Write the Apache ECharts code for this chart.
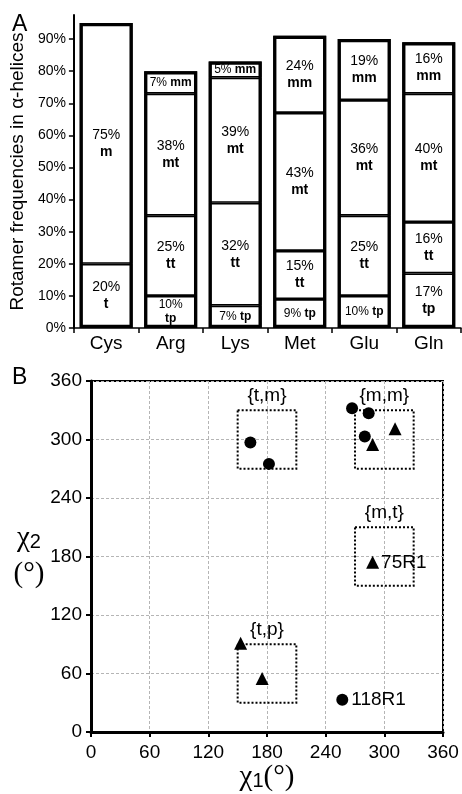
<!DOCTYPE html>
<html><head><meta charset="utf-8">
<script src="https://cdn.jsdelivr.net/npm/echarts@6/dist/echarts.min.js"></script>
<style>html,body{margin:0;padding:0;background:#fff}#c{width:462px;height:794px}</style>
</head><body><div id="c"></div>
<script>
// ---------- Panel A data ----------
const residues = ['Cys', 'Arg', 'Lys', 'Met', 'Glu', 'Gln'];
const seg1Values = [20, 10, 7, 9, 10, 17];
const seg1Names = ['t', 'tp', 'tp', 'tp', 'tp', 'tp'];
const seg2Values = [75, 25, 32, 15, 25, 16];
const seg2Names = ['m', 'tt', 'tt', 'tt', 'tt', 'tt'];
const seg3Values = [null, 38, 39, 43, 36, 40];
const seg3Names = [null, 'mt', 'mt', 'mt', 'mt', 'mt'];
const seg4Values = [null, 7, 5, 24, 19, 16];
const seg4Names = [null, 'mm', 'mm', 'mm', 'mm', 'mm'];
const yTickValuesA = [0, 10, 20, 30, 40, 50, 60, 70, 80, 90];

// ---------- Panel B data ----------
const circleX = [163, 182, 267, 284, 280, 257];
const circleY = [297, 275, 332, 327, 303, 33];
const circleLabels = ['', '', '', '', '', '118R1'];
const triangleX = [288, 311, 288, 153, 175];
const triangleY = [295, 311, 174, 91, 55];
const triangleLabels = ['', '', '75R1', '', ''];
const boxNames = ['{t,m}', '{m,m}', '{m,t}', '{t,p}'];
const boxX0 = [150, 270, 270, 150];
const boxX1 = [210, 330, 330, 210];
const boxY0 = [270, 270, 150, 30];
const boxY1 = [330, 330, 210, 90];

// label layout styles (inline small labels)
const seg1Style = ['n', 's2', 'i', 'i', 'i', 'n'];
const seg4Style = [null, 'i', 'i', 'n', 'n', 'n'];

const SANS = '"Liberation Sans", Arial, sans-serif';
const SERIF = '"Liberation Serif", "Times New Roman", serif';

const totals = residues.map((_, i) =>
  [seg1Values, seg2Values, seg3Values, seg4Values].reduce((s, a) => s + (a[i] || 0), 0));

function segLabel(values, names, styles) {
  return function (p) {
    const v = values[p.dataIndex], n = names[p.dataIndex];
    if (v == null) return '';
    const st = styles ? styles[p.dataIndex] : 'n';
    if (st === 'i') return '{ps|' + v + '%} {bs|' + n + '}';
    if (st === 's2') return '{ps|' + v + '%}\n{bs|' + n + '}';
    return '{p|' + v + '%}\n{b|' + n + '}';
  };
}
const richA = {
  p: { fontSize: 14, fontFamily: SANS, color: '#000', lineHeight: 17 },
  b: { fontSize: 14, fontFamily: SANS, fontWeight: 'bold', color: '#000', lineHeight: 17 },
  ps: { fontSize: 12, fontFamily: SANS, color: '#000', lineHeight: 14 },
  bs: { fontSize: 12, fontFamily: SANS, fontWeight: 'bold', color: '#000', lineHeight: 14 }
};
function barSeries(values, names, styles) {
  return {
    type: 'bar', stack: 'rot', xAxisIndex: 0, yAxisIndex: 0,
    data: values, barWidth: 53,
    itemStyle: { color: '#fff', borderColor: '#000', borderWidth: 1.6 },
    label: { show: true, position: 'inside', formatter: segLabel(values, names, styles), rich: richA },
    emphasis: { disabled: true }, animation: false
  };
}

const chart = echarts.init(document.getElementById('c'), null, { renderer: 'canvas' });
chart.setOption({
  animation: false,
  backgroundColor: '#fff',
  textStyle: { fontFamily: SANS },
  graphic: [
    { type: 'text', left: 12, top: 13, style: { text: 'A', fontSize: 23, fontFamily: SANS, fill: '#000' } },
    { type: 'text', left: 12, top: 366, style: { text: 'B', fontSize: 23, fontFamily: SANS, fill: '#000' } }
  ],
  grid: [
    { left: 71, right: 1, top: 15, bottom: 466 },
    { left: 91, right: 19, top: 381, bottom: 62, show: true, borderColor: '#000', borderWidth: 2, backgroundColor: 'rgba(0,0,0,0)' }
  ],
  xAxis: [
    {
      gridIndex: 0, type: 'category', data: residues,
      axisLine: { lineStyle: { color: '#000', width: 1.5 } },
      axisTick: { show: true, alignWithLabel: false, length: 5, lineStyle: { color: '#000', width: 1.5 } },
      axisLabel: { color: '#000', fontSize: 19, fontFamily: SANS, margin: 6 },
      splitLine: { show: false }
    },
    {
      gridIndex: 1, type: 'value', min: 0, max: 360, interval: 60,
      axisLine: { show: true, lineStyle: { color: '#000', width: 3 } },
      axisTick: { show: true, length: 5, lineStyle: { color: '#000', width: 2 } },
      axisLabel: { color: '#000', fontSize: 19, fontFamily: SANS, margin: 11 },
      splitLine: { show: true, lineStyle: { color: '#b5b5b5', type: [3, 2], width: 1 } },
      name: '{a|χ}{s|1}{a|(°)}', nameLocation: 'middle', nameGap: 30,
      nameTextStyle: { rich: {
        a: { fontSize: 29, fontFamily: SERIF, color: '#000' },
        s: { fontSize: 20, fontFamily: SANS, color: '#000', padding: [8, 0, 0, 0] }
      } }
    }
  ],
  yAxis: [
    {
      gridIndex: 0, type: 'value', min: 0, max: 97.5,
      axisLine: { show: true, lineStyle: { color: '#000', width: 2 } },
      axisTick: { show: true, length: 5, customValues: yTickValuesA, lineStyle: { color: '#000', width: 1.5 } },
      axisLabel: { color: '#000', fontSize: 14, fontFamily: SANS, margin: 8, customValues: yTickValuesA, formatter: '{value}%' },
      splitLine: { show: false },
      name: 'Rotamer frequencies in α-helices', nameLocation: 'middle', nameGap: 38,
      nameTextStyle: { fontSize: 19, fontFamily: SANS, color: '#000' }
    },
    {
      gridIndex: 1, type: 'value', min: 0, max: 360, interval: 60,
      axisLine: { show: true, lineStyle: { color: '#000', width: 3 } },
      axisTick: { show: true, length: 5, lineStyle: { color: '#000', width: 2 } },
      axisLabel: { color: '#000', fontSize: 19, fontFamily: SANS, margin: 9 },
      splitLine: { show: true, lineStyle: { color: '#b5b5b5', type: [3, 2], width: 1 } },
      name: '{a|χ}{s|2}\n{a|(°)}', nameLocation: 'middle', nameGap: 50, nameRotate: 0,
      nameTextStyle: { align: 'center', rich: {
        a: { fontSize: 29, fontFamily: SERIF, color: '#000', lineHeight: 36 },
        s: { fontSize: 20, fontFamily: SANS, color: '#000', lineHeight: 36, padding: [8, 0, 0, 0] }
      } }
    }
  ],
  series: [
    barSeries(seg1Values, seg1Names, seg1Style),
    barSeries(seg2Values, seg2Names, null),
    barSeries(seg3Values, seg3Names, null),
    barSeries(seg4Values, seg4Names, seg4Style),
    {
      type: 'bar', xAxisIndex: 0, yAxisIndex: 0, data: totals, barWidth: 53, barGap: '-100%', z: 3,
      itemStyle: { color: 'rgba(0,0,0,0)', borderColor: '#000', borderWidth: 3.2 },
      label: { show: false }, emphasis: { disabled: true }, silent: true
    },
    {
      type: 'scatter', xAxisIndex: 1, yAxisIndex: 1, symbol: 'circle', symbolSize: 12,
      itemStyle: { color: '#000', opacity: 1 }, z: 5,
      data: circleX.map((x, i) => ({ value: [x, circleY[i]], label: { show: !!circleLabels[i], formatter: circleLabels[i] } })),
      label: { position: 'right', distance: 3, color: '#000', fontSize: 19, fontFamily: SANS },
      emphasis: { disabled: true },
      markArea: {
        silent: true,
        itemStyle: { color: 'rgba(0,0,0,0)', borderColor: '#000', borderWidth: 2, borderType: [2, 2] },
        label: { show: true, position: 'top', distance: 4, color: '#000', fontSize: 19, fontFamily: SANS },
        data: boxNames.map((n, i) => [
          { name: n, coord: [boxX0[i], boxY1[i]] },
          { coord: [boxX1[i], boxY0[i]] }
        ])
      }
    },
    {
      type: 'scatter', xAxisIndex: 1, yAxisIndex: 1, symbol: 'triangle', symbolSize: 13,
      itemStyle: { color: '#000', opacity: 1 }, z: 5,
      data: triangleX.map((x, i) => ({ value: [x, triangleY[i]], label: { show: !!triangleLabels[i], formatter: triangleLabels[i] } })),
      label: { position: 'right', distance: 2, color: '#000', fontSize: 19, fontFamily: SANS },
      emphasis: { disabled: true }
    }
  ]
});
</script>
</body></html>
